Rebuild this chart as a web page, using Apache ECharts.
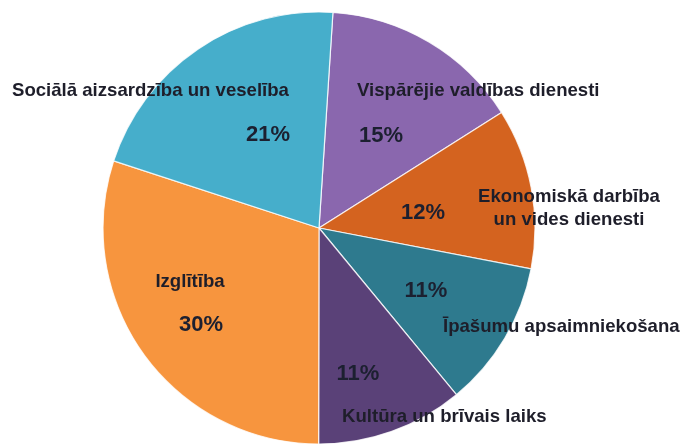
<!DOCTYPE html>
<html>
<head>
<meta charset="utf-8">
<script src="https://cdn.jsdelivr.net/npm/echarts@6/dist/echarts.min.js"></script>
<style>
html,body{margin:0;padding:0;background:#fff;}
#c{width:686px;height:445px;}
</style>
</head>
<body>
<div id="c"></div>
<script>
// Data (clockwise from top)
var categories = [
  "Vispārējie valdības dienesti",
  "Ekonomiskā darbība\nun vides dienesti",
  "Īpašumu apsaimniekošana",
  "Kultūra un brīvais laiks",
  "Izglītība",
  "Sociālā aizsardzība un veselība"
];
var values = [15, 12, 11, 11, 30, 21];
var colors = ["#8A67AE", "#D4631F", "#2E7A8E", "#5A4178", "#F7953E", "#46AECB"];

// Label layout (not data)
var nameLayout = [
  {x: 357, y: 91, align: "left"},
  {x: 569, y: 208, align: "center"},
  {x: 443, y: 327, align: "left"},
  {x: 342, y: 417, align: "left"},
  {x: 190, y: 282, align: "center"},
  {x: 12, y: 91, align: "left"}
];
var pctLayout = [
  {x: 381, y: 136},
  {x: 423, y: 213},
  {x: 426, y: 291},
  {x: 358, y: 374},
  {x: 201, y: 325},
  {x: 268, y: 135}
];

var total = values.reduce(function(a, b){ return a + b; }, 0);
var data = categories.map(function(c, i){
  return {name: c, value: values[i], itemStyle: {color: colors[i]}};
});

var chart = echarts.init(document.getElementById('c'), null, {renderer: 'canvas'});
var base = {
  type: 'pie',
  center: [319, 228],
  radius: [0, 216],
  startAngle: 86.3,
  clockwise: true,
  animation: false,
  labelLine: {show: false},
  emphasis: {disabled: true}
};
chart.setOption({
  backgroundColor: '#ffffff',
  series: [
    Object.assign({}, base, {
      data: data,
      itemStyle: {borderColor: 'rgba(255,255,255,0.8)', borderWidth: 1.2},
      label: {
        show: true,
        position: 'inside',
        formatter: '{b}',
        fontFamily: 'Liberation Sans, Arial, sans-serif',
        fontWeight: 'bold',
        fontSize: 18.6,
        lineHeight: 23,
        color: '#1e1e2a'
      },
      labelLayout: function(p){
        var l = nameLayout[p.dataIndex];
        return {x: l.x, y: l.y, align: l.align, verticalAlign: 'middle', hideOverlap: false};
      }
    }),
    Object.assign({}, base, {
      data: data.map(function(d){ return {name: d.name, value: d.value}; }),
      silent: true,
      itemStyle: {color: 'rgba(0,0,0,0)', borderWidth: 0},
      label: {
        show: true,
        position: 'inside',
        formatter: function(p){ return Math.round(p.value / total * 100) + '%'; },
        fontFamily: 'Liberation Sans, Arial, sans-serif',
        fontWeight: 'bold',
        fontSize: 22,
        color: '#1c2030'
      },
      labelLayout: function(p){
        var l = pctLayout[p.dataIndex];
        return {x: l.x, y: l.y, align: 'center', verticalAlign: 'middle', hideOverlap: false};
      }
    })
  ]
});
</script>
</body>
</html>
